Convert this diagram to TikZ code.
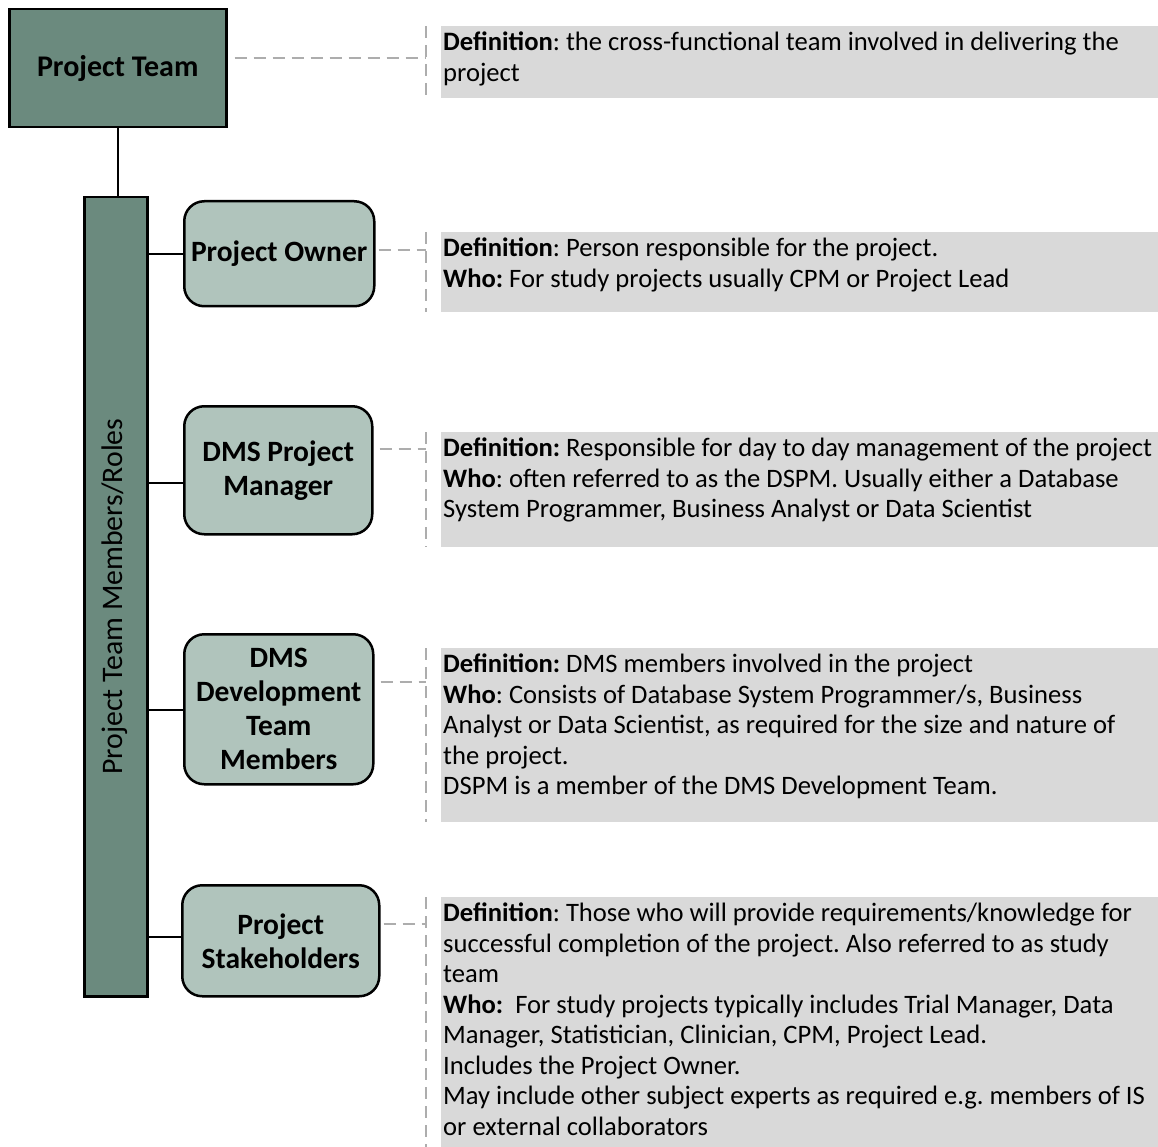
\documentclass[tikz,border=0pt]{standalone}
\usepackage{fontspec}
\setmainfont{Carlito}
\frenchspacing
\definecolor{dkgreen}{HTML}{6B8A7E}
\definecolor{ltgreen}{HTML}{B0C4BC}
\definecolor{defgray}{HTML}{D9D9D9}
\definecolor{dashgray}{HTML}{ADADAD}
\begin{document}
\frenchspacing
\begin{tikzpicture}[x=1pt,y=-1pt,
  topbox/.style={draw=black, line width=2.5pt, fill=dkgreen, anchor=north west, inner sep=0pt,
    font=\fontsize{30}{35}\selectfont\bfseries, align=center},
  rolebox/.style={draw=black, line width=2.5pt, rounded corners=20pt, fill=ltgreen, anchor=north west,
    inner sep=0pt, font=\fontsize{29.5}{34}\selectfont\bfseries, align=center},
  defbox/.style={fill=defgray, anchor=north west, inner sep=0pt, minimum width=717pt},
  deftext/.style={anchor=north west, inner sep=0pt, align=left, font=\fontsize{26.6}{30.5}\selectfont},
  link/.style={draw=black, line width=2.5pt},
  dashlink/.style={draw=dashgray, line width=2.8pt, dash pattern=on 12pt off 7pt}
]
\useasboundingbox (0,0) rectangle (1158,1147);

% main boxes
\node[topbox, minimum width=217pt, minimum height=118pt] (team) at (8,8) {Project Team};
\node[topbox, minimum width=63pt, minimum height=799pt] (bar) at (83,196) {};
\node[rotate=90, inner sep=0pt, font=\fontsize{29.8}{34}\selectfont] (barlabel) at ([xshift=-1pt]bar.center) {Project Team Members/Roles};

\node[rolebox, minimum width=190pt, minimum height=105pt] (owner) at (183,200) {Project Owner};
\node[rolebox, minimum width=188pt, minimum height=128pt] (pm) at (183,405) {DMS Project\\Manager};
\node[rolebox, minimum width=189pt, minimum height=150pt] (dev) at (183,633) {DMS\\Development\\Team\\Members};
\node[rolebox, minimum width=197pt, minimum height=111pt] (stake) at (181,884) {Project\\Stakeholders};

% solid connectors
\draw[link] (team.south) -- (bar.north -| team.south);
\coordinate (c1) at (0,254);
\coordinate (c2) at (0,483);
\coordinate (c3) at (0,710);
\coordinate (c4) at (0,937);
\draw[link] (bar.east |- c1) -- (owner.west |- c1);
\draw[link] (bar.east |- c2) -- (pm.west |- c2);
\draw[link] (bar.east |- c3) -- (dev.west |- c3);
\draw[link] (bar.east |- c4) -- (stake.west |- c4);

% definition boxes
\node[defbox, minimum height=72pt] (d1) at (441,26) {};
\node[defbox, minimum height=80pt] (d2) at (441,232) {};
\node[defbox, minimum height=115pt] (d3) at (441,432) {};
\node[defbox, minimum height=174pt] (d4) at (441,648) {};
\node[defbox, minimum height=250pt] (d5) at (441,897) {};

\node[deftext] (t1) at (443,29) {\strut\textbf{Definition}: the cross-functional team involved in delivering the\\project};
\node[deftext] (t2) at (443,235) {\strut\textbf{Definition}: Person responsible for the project.\\\textbf{Who:} For study projects usually CPM or Project Lead};
\node[deftext] (t3) at (443,435) {\strut\textbf{Definition:} Responsible for day to day management of the project\\\textbf{Who}: often referred to as the DSPM. Usually either a Database\\System Programmer, Business Analyst or Data Scientist};
\node[deftext] (t4) at (443,651) {\strut\textbf{Definition:} DMS members involved in the project\\\textbf{Who}: Consists of Database System Programmer/s, Business\\Analyst or Data Scientist, as required for the size and nature of\\the project.\\DSPM is a member of the DMS Development Team.};
\node[deftext] (t5) at (443,900) {\strut\textbf{Definition}: Those who will provide requirements/knowledge for\\successful completion of the project. Also referred to as study\\team\\\textbf{Who:}\ \ For study projects typically includes Trial Manager, Data\\Manager, Statistician, Clinician, CPM, Project Lead.\\Includes the Project Owner.\\May include other subject experts as required e.g. members of IS\\or external collaborators};

% dashed brackets
\coordinate (k1) at (426,58);
\coordinate (k2) at (426,250);
\coordinate (k3) at (426,449);
\coordinate (k4) at (426,682);
\coordinate (k5) at (426,924);
\draw[dashlink] ([xshift=7pt]team.east |- k1) -- (k1);
\draw[dashlink] ([xshift=3pt]owner.east |- k2) -- (k2);
\draw[dashlink] ([xshift=6pt]pm.east |- k3) -- (k3);
\draw[dashlink] ([xshift=6pt]dev.east |- k4) -- (k4);
\draw[dashlink] ([xshift=3pt]stake.east |- k5) -- (k5);
\draw[dashlink] (k1 |- d1.north) -- (k1 |- d1.south);
\draw[dashlink] (k2 |- d2.north) -- (k2 |- d2.south);
\draw[dashlink] (k3 |- d3.north) -- (k3 |- d3.south);
\draw[dashlink] (k4 |- d4.north) -- (k4 |- d4.south);
\draw[dashlink] (k5 |- d5.north) -- (k5 |- d5.south);
\end{tikzpicture}
\end{document}
